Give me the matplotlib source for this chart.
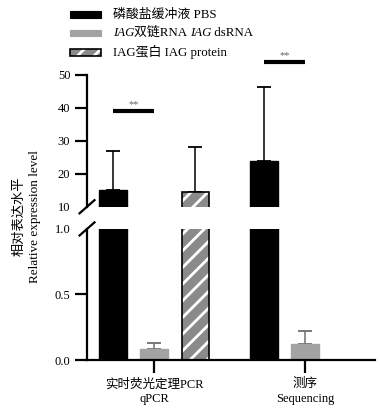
import numpy as np
import matplotlib
matplotlib.use("Agg")
import matplotlib.pyplot as plt
from matplotlib.patches import Rectangle
from matplotlib.offsetbox import AnchoredOffsetbox, HPacker, VPacker, TextArea, DrawingArea

plt.rcParams['font.family'] = ['Liberation Serif', 'Noto Sans CJK SC']
plt.rcParams['hatch.linewidth'] = 2.0

# data
groups = ['实时荧光定理PCR\nqPCR', '测序\nSequencing']
pbs = [15.0, 23.8]
pbs_err = [12.0, 22.4]
dsrna = [0.082, 0.12]
dsrna_err = [0.046, 0.10]
protein = [14.4, np.nan]
protein_err = [13.6, np.nan]
sig_y = [38.9, 53.8]

top_ticks = [10, 20, 30, 40, 50]
bot_ticks = [0.0, 0.5, 1.0]

BLACK = 'black'
GRAY = '#a3a3a3'
GRAY_ERR = '#6e6e6e'
HATCH_FACE = '#8a8a8a'

x = np.arange(len(groups))
off = 0.272
w = 0.18

fig = plt.figure(figsize=(3.8, 4.11), dpi=100)
ax_top = fig.add_axes([0.229, 0.497, 0.758, 0.321])
ax_bot = fig.add_axes([0.229, 0.124, 0.758, 0.319])


def draw_bars(ax):
    ax.bar(x - off, pbs, w, color=BLACK, edgecolor=BLACK, linewidth=1, zorder=2)
    ax.bar(x, dsrna, w, color=GRAY, edgecolor=GRAY, linewidth=1, zorder=2)
    ax.bar(x + off, protein, w, color=HATCH_FACE, edgecolor='white', linewidth=0,
           hatch='//', zorder=2)
    ax.bar(x + off, protein, w, fill=False, edgecolor=BLACK, linewidth=1.2, zorder=3)
    ax.errorbar(x - off, pbs, yerr=[np.zeros(2), pbs_err], fmt='none', ecolor=BLACK,
                elinewidth=1.1, capsize=5, capthick=1.3, zorder=1)
    ax.errorbar(x + off, protein, yerr=[np.zeros(2), protein_err], fmt='none',
                ecolor=BLACK, elinewidth=1.1, capsize=5, capthick=1.3, zorder=1)
    ax.errorbar(x, dsrna, yerr=[np.zeros(2), dsrna_err], fmt='none', ecolor=GRAY_ERR,
                elinewidth=1.1, capsize=5, capthick=1.3, zorder=1)
    ax.set_xlim(-0.444, 1.464)
    for s in ['top', 'right']:
        ax.spines[s].set_visible(False)
    ax.spines['left'].set_linewidth(1.6)
    ax.tick_params(axis='y', direction='out', length=9, width=1.6, labelsize=9, pad=3)


draw_bars(ax_top)
draw_bars(ax_bot)

ax_top.set_ylim(10, 50)
ax_top.set_yticks(top_ticks)
ax_top.set_yticklabels([str(t) for t in top_ticks])
ax_top.spines['bottom'].set_visible(False)
ax_top.set_xticks([])
ax_top.yaxis.get_major_ticks()[0].tick1line.set_visible(False)

ax_bot.set_ylim(0, 1)
ax_bot.set_yticks(bot_ticks)
ax_bot.set_yticklabels([f'{t:.1f}' for t in bot_ticks])
ax_bot.yaxis.get_major_ticks()[-1].tick1line.set_visible(False)
ax_bot.spines['bottom'].set_linewidth(1.6)
ax_bot.set_xticks(x)
ax_bot.set_xticklabels(groups, linespacing=1.35)
ax_bot.tick_params(axis='x', direction='out', length=9, width=1.6, labelsize=9, pad=4)

# broken axis marks
dx, dy = 0.026, 0.05
ax_top.plot([-dx, dx], [-dy, dy], transform=ax_top.transAxes, color=BLACK,
            lw=1.6, clip_on=False)
ax_bot.plot([-dx, dx], [1 - dy, 1 + dy], transform=ax_bot.transAxes, color=BLACK,
            lw=1.6, clip_on=False)

# significance
for i, y in enumerate(sig_y):
    ax_top.plot([x[i] - off, x[i]], [y, y], color=BLACK, lw=3, clip_on=False,
                solid_capstyle='butt')
    ax_top.text(x[i] - off / 2, y + 0.8, '**', ha='center', va='bottom', fontsize=7.5,
                color='#666666', clip_on=False)

fig.text(0.071, 0.474, '相对表达水平\nRelative expression level', rotation=90,
         ha='center', va='center', multialignment='center', fontsize=9.5,
         linespacing=1.4)


# legend
def swatch(face, hatch=None):
    da = DrawingArea(22.5, 4.5, 0, 0)
    if hatch:
        da.add_artist(Rectangle((0, 0), 22.5, 4.5, facecolor=face, edgecolor='white',
                                linewidth=0, hatch=hatch))
        da.add_artist(Rectangle((0, 0), 22.5, 4.5, fill=False, edgecolor=BLACK,
                                linewidth=1.2))
    else:
        da.add_artist(Rectangle((0, 0), 22.5, 4.5, facecolor=face, edgecolor=face,
                                linewidth=0.8))
    return da


def label(pieces):
    areas = []
    for txt, italic in pieces:
        areas.append(TextArea(txt, textprops=dict(fontsize=9.3,
                                                  fontstyle='italic' if italic else 'normal')))
    return HPacker(children=areas, sep=0, pad=0, align='baseline')


rows = [
    (swatch(BLACK), label([('磷酸盐缓冲液 PBS', False)])),
    (swatch(GRAY), label([('IAG', True), ('双链RNA ', False), ('IAG', True), (' dsRNA', False)])),
    (swatch(HATCH_FACE, hatch='//'), label([('IAG蛋白 IAG protein', False)])),
]
vp = VPacker(children=[HPacker(children=[s, l], sep=8.5, pad=0, align='center')
                       for s, l in rows], sep=4.5, pad=0, align='left')
leg = AnchoredOffsetbox(loc='upper left', child=vp, pad=0, borderpad=0, frameon=False,
                        bbox_to_anchor=(70 / 380, 1 - 8.5 / 411),
                        bbox_transform=fig.transFigure)
fig.add_artist(leg)

fig.savefig('out.png', dpi=100)
